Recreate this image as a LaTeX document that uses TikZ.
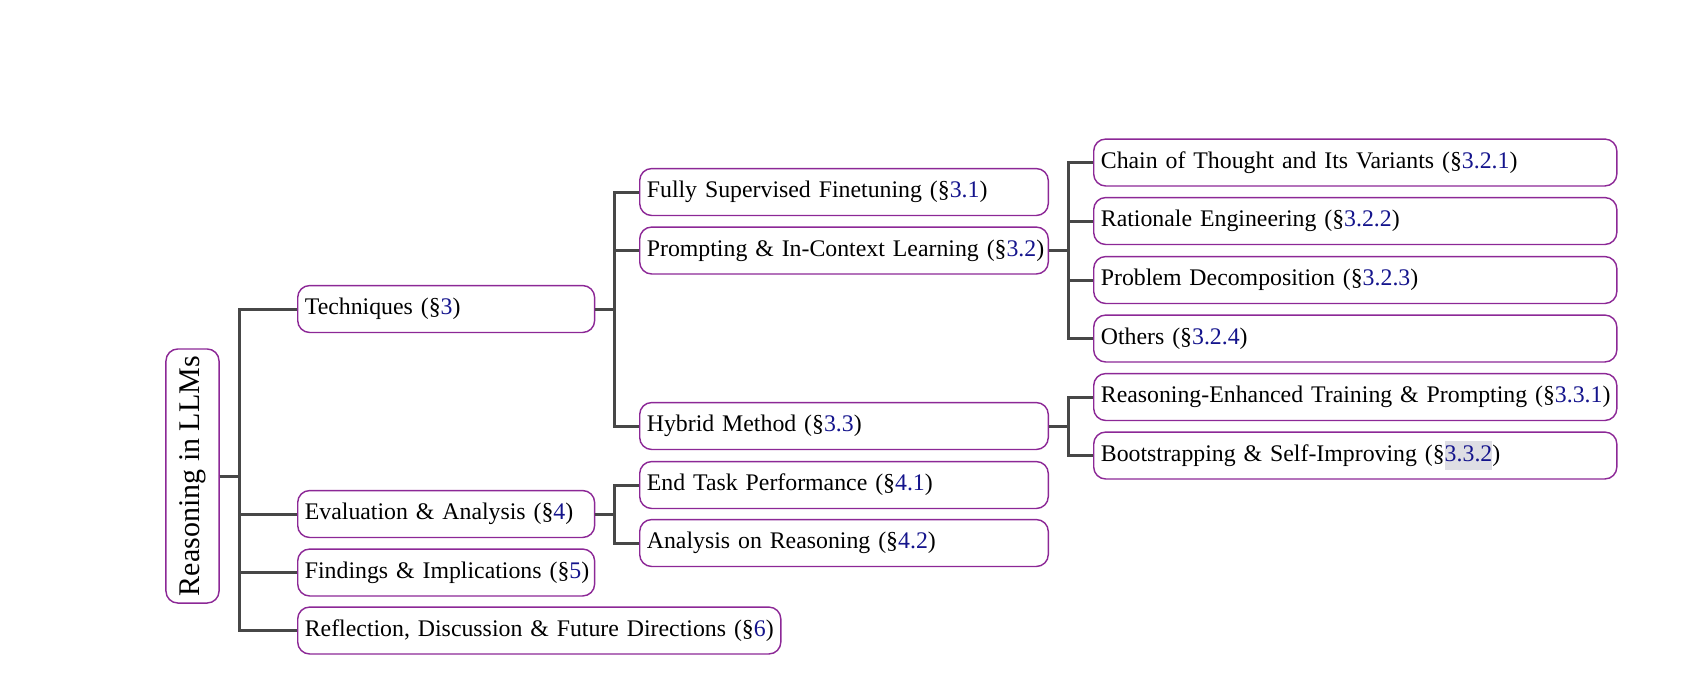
\documentclass[tikz,border=0pt]{standalone}
\usepackage{fontspec}
\setmainfont{Liberation Serif}
\usepackage{xcolor}
\definecolor{boxline}{RGB}{140,40,150}
\definecolor{secblue}{RGB}{20,20,140}
\definecolor{hilite}{RGB}{222,222,228}
\newcommand{\sref}[1]{(\S\textcolor{secblue}{#1})}
\newcommand{\srefhl}[1]{(\S{\setlength{\fboxsep}{0pt}\colorbox{hilite}{\strut\textcolor{secblue}{#1}}})}
\newcommand{\lb}[1]{\mbox{#1}}
\usepackage{tikz}

\begin{document}
\begin{tikzpicture}[x=0.42pt, y=-0.42pt, font=\fontsize{10}{12}\selectfont,
		leaf/.style={draw=boxline, line width=0.6pt, rounded corners=5pt, anchor=west,
			align=left, inner xsep=3pt, inner ysep=0pt, minimum height=19.7pt},
		lvla/.style={leaf, text width=118.7pt},
		lvlb/.style={leaf, text width=165.6pt},
		lvlc/.style={leaf, text width=213.7pt},
		fork/.style={draw=black!72, line width=1.25pt}]
		\useasboundingbox (0,0) rectangle (1700,684);
		\def\xa{297}\def\xb{639}\def\xc{1093}\def\gap{19.5}
		% root
		\node[draw=boxline, line width=0.6pt, rounded corners=5pt, minimum width=106.7pt,
			minimum height=22.3pt, inner sep=0pt, rotate=90] (root) at (192.5,476)
			{\fontsize{12.6}{14}\selectfont Reasoning in LLMs};
		% first level
		\node[lvla] (tech) at (\xa,309) {\lb{Techniques \sref{3}}};
		\node[lvla] (eval) at (\xa,514) {\lb{Evaluation \& Analysis \sref{4}}};
		\node[lvla] (find) at (\xa,572.5) {\lb{Findings \& Implications \sref{5}}};
		\node[leaf, text width=196.9pt] (refl) at (\xa,630.5) {\lb{Reflection, Discussion \& Future Directions \sref{6}}};
		% second level
		\node[lvlb] (fsf) at (\xb,192) {\lb{Fully Supervised Finetuning \sref{3.1}}};
		\node[lvlb] (icl) at (\xb,250.5) {\lb{Prompting \& In-Context Learning \sref{3.2}}};
		\node[lvlb] (hyb) at (\xb,426) {\lb{Hybrid Method \sref{3.3}}};
		\node[lvlb] (endt) at (\xb,485) {\lb{End Task Performance \sref{4.1}}};
		\node[lvlb] (anl) at (\xb,543) {\lb{Analysis on Reasoning \sref{4.2}}};
		% third level
		\node[lvlc] (cot) at (\xc,162.5) {\lb{Chain of Thought and Its Variants \sref{3.2.1}}};
		\node[lvlc] (rat) at (\xc,221) {\lb{Rationale Engineering \sref{3.2.2}}};
		\node[lvlc] (dec) at (\xc,280) {\lb{Problem Decomposition \sref{3.2.3}}};
		\node[lvlc] (oth) at (\xc,338.5) {\lb{Others \sref{3.2.4}}};
		\node[lvlc] (ret) at (\xc,397) {\lb{Reasoning-Enhanced Training \& Prompting \sref{3.3.1}}};
		\node[lvlc] (boot) at (\xc,455.5) {\lb{Bootstrapping \& Self-Improving \srefhl{3.3.2}}};
		% forks
		\foreach \c in {tech,eval,find,refl}
			\draw[fork] (root.south) -- ++(\gap,0) |- (\c.west);
		\foreach \c in {fsf,icl,hyb}
			\draw[fork] (tech.east) -- ++(\gap,0) |- (\c.west);
		\foreach \c in {endt,anl}
			\draw[fork] (eval.east) -- ++(\gap,0) |- (\c.west);
		\foreach \c in {cot,rat,dec,oth}
			\draw[fork] (icl.east) -- ++(\gap,0) |- (\c.west);
		\foreach \c in {ret,boot}
			\draw[fork] (hyb.east) -- ++(\gap,0) |- (\c.west);
	\end{tikzpicture}
\end{document}
